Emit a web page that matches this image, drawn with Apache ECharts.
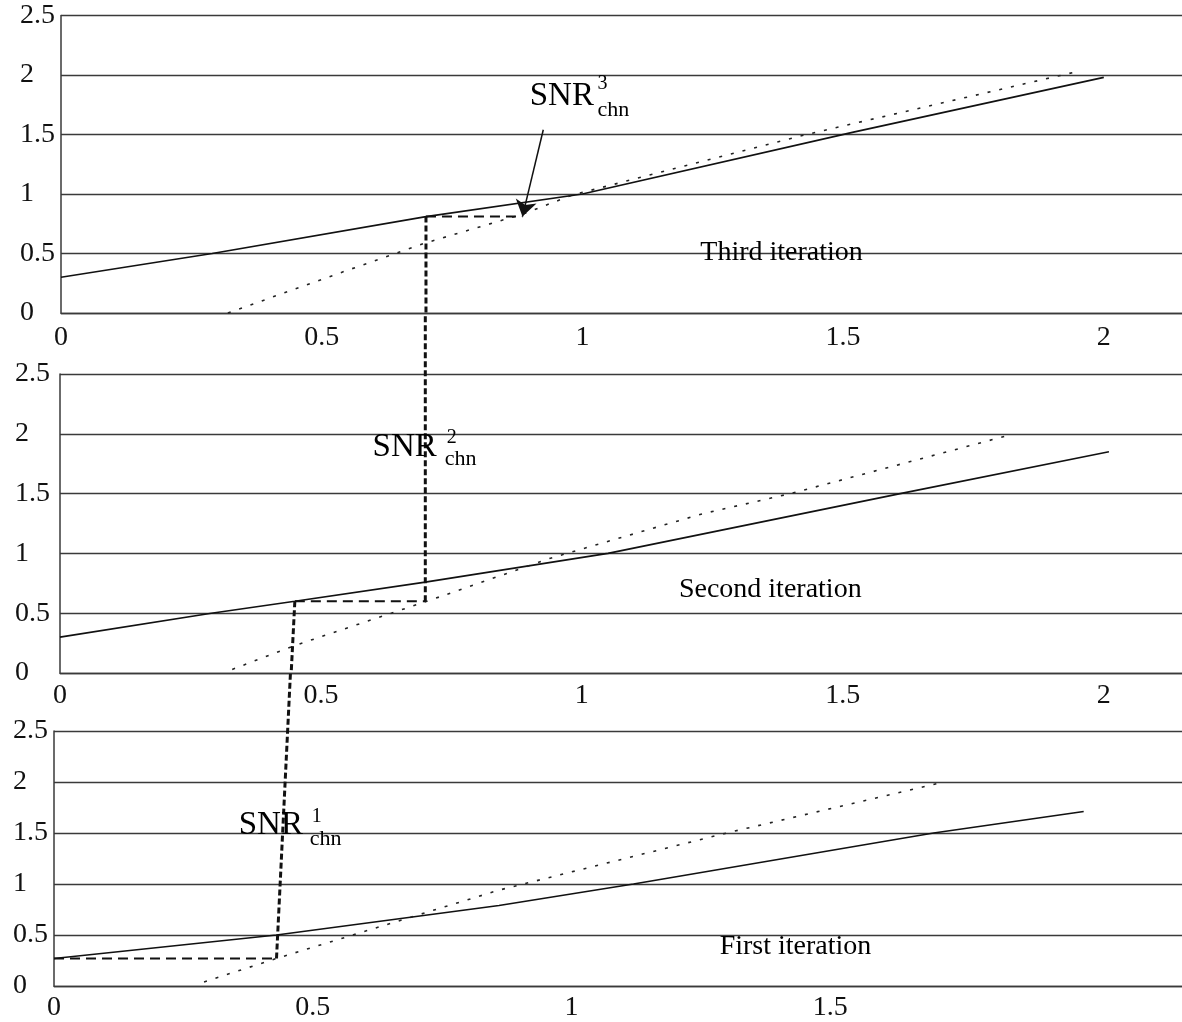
<!DOCTYPE html>
<html>
<head>
<meta charset="utf-8">
<script src="https://cdn.jsdelivr.net/npm/echarts@6/dist/echarts.min.js"></script>
<style>
  html, body { margin: 0; padding: 0; background: #fff; }
  #chart { width: 1182px; height: 1022px; }
</style>
</head>
<body>
<div id="chart"></div>
<script>
// ---- Shared axis ticks ----
const yTicks = [0, 0.5, 1, 1.5, 2, 2.5];
const xTicks = [0, 0.5, 1, 1.5, 2];

// ---- Third iteration (top panel) ----
const solid3X = [0, 0.29, 0.70, 1.00, 1.52, 2.00];
const solid3Y = [0.30, 0.50, 0.81, 1.00, 1.52, 1.98];
const dotted3X = [0.32, 0.55, 0.70, 0.885, 0.98, 1.42, 1.95];
const dotted3Y = [0.00, 0.36, 0.59, 0.83, 0.99, 1.49, 2.03];

// ---- Second iteration (middle panel) ----
const solid2X = [0, 0.29, 0.45, 0.70, 1.05, 1.61, 2.01];
const solid2Y = [0.30, 0.50, 0.60, 0.76, 1.00, 1.50, 1.85];
const dotted2X = [0.33, 0.45, 0.71, 0.94, 1.23, 1.40, 1.82];
const dotted2Y = [0.03, 0.23, 0.61, 0.96, 1.33, 1.50, 1.99];

// ---- First iteration (bottom panel) ----
const solid1X = [0, 0.43, 0.86, 1.12, 1.70, 1.99];
const solid1Y = [0.27, 0.50, 0.79, 1.00, 1.50, 1.71];
const dotted1X = [0.29, 0.43, 0.86, 1.30, 1.72];
const dotted1Y = [0.04, 0.27, 0.94, 1.50, 2.00];

// ---- Staircase between the panels (x, y pairs per panel) ----
const step3Horiz = [[0.70, 0.81], [0.885, 0.81]];
const step3Vert = [[0.70, 0.81], [0.70, 0.0]];
const step2Horiz = [[0.45, 0.60], [0.70, 0.60]];
const step2VertUp = [[0.70, 0.60], [0.70, 3.0]];
const step2VertDown = [[0.45, 0.60], [0.443, 0.0]];
const step2Stub = [[-0.013, 1.2], [-0.013, 1.0]];
const step1Horiz = [[0.0, 0.27], [0.43, 0.27]];
const step1Vert = [[0.43, 0.27], [0.457, 3.07]];

// arrow pointing at the third-iteration operating point
const arrow3 = [[0.925, 1.54], [0.885, 0.81]];

// ---- Panel captions ----
const captions = [
  { text: 'Third iteration', panel: 0, at: [1.383, 0.50] },
  { text: 'Second iteration', panel: 1, at: [1.362, 0.693] },
  { text: 'First iteration', panel: 2, at: [1.434, 0.377] }
];
// SNR_chn labels: [base, superscript, subscript] anchors
const snrLabels = [
  { panel: 0, sup: '3', base: [0.90, 1.815], supAt: [1.030, 1.926], subAt: [1.030, 1.703] },
  { panel: 1, sup: '2', base: [0.600, 1.883], supAt: [0.742, 1.96], subAt: [0.738, 1.785] },
  { panel: 2, sup: '1', base: [0.358, 1.570], supAt: [0.499, 1.659], subAt: [0.495, 1.435] }
];

const zip = (xs, ys) => xs.map((x, i) => [x, ys[i]]);
const FONT = 'Liberation Serif';
const INK = '#111';
const GRID = '#3a3a3a';

const grids = [
  { left: 61, top: 15.5, right: 0, height: 297.5 },
  { left: 60, top: 374, right: 0, height: 299 },
  { left: 54, top: 731, right: 0, height: 255 }
];
const xMax = [2.15, 2.15, 2.18];
const xLabelMargin = [11, 9, 8];
const yLabelMargin = [41, 45, 41];

const xAxes = grids.map((g, i) => ({
  gridIndex: i, type: 'value', min: 0, max: xMax[i], interval: 0.5,
  axisLine: { show: true, lineStyle: { color: GRID, width: 1.3 } },
  axisTick: { show: false },
  splitLine: { show: false },
  axisLabel: {
    showMaxLabel: false, margin: xLabelMargin[i],
    fontFamily: FONT, fontSize: 28, color: INK,
    formatter: v => (xTicks.indexOf(v) < 0 || (i === 2 && v === 2)) ? '' : String(v)
  }
}));
const yAxes = grids.map((g, i) => ({
  gridIndex: i, type: 'value', min: 0, max: 2.5, interval: 0.5,
  axisLine: { show: true, lineStyle: { color: GRID, width: 1.5 } },
  axisTick: { show: false },
  splitLine: { show: true, lineStyle: { color: GRID, width: 1.3 } },
  axisLabel: {
    align: 'left', margin: yLabelMargin[i],
    fontFamily: FONT, fontSize: 28, color: INK,
    formatter: v => yTicks.indexOf(v) < 0 ? '' : String(v)
  }
}));

const series = [];
function curve(panel, data, kind) {
  const styles = {
    solid: { color: INK, width: 1.6, type: 'solid' },
    dotted: { color: '#222', width: 1.6, type: [3, 9] },
    stepV: { color: INK, width: 3, type: [6, 3] },
    stepH: { color: INK, width: 2, type: [10, 6] }
  };
  series.push({
    type: 'line', xAxisIndex: panel, yAxisIndex: panel, data: data,
    showSymbol: false, symbol: 'none', clip: false, silent: true,
    lineStyle: styles[kind], z: kind.startsWith('step') ? 4 : 3
  });
}
curve(0, zip(solid3X, solid3Y), 'solid');
curve(0, zip(dotted3X, dotted3Y), 'dotted');
curve(1, zip(solid2X, solid2Y), 'solid');
curve(1, zip(dotted2X, dotted2Y), 'dotted');
curve(2, zip(solid1X, solid1Y), 'solid');
curve(2, zip(dotted1X, dotted1Y), 'dotted');

curve(0, step3Horiz, 'stepH');
curve(0, step3Vert, 'stepV');
curve(1, step2Horiz, 'stepH');
curve(1, step2VertUp, 'stepV');
curve(1, step2VertDown, 'stepV');
curve(1, step2Stub, 'stepV');
curve(2, step1Horiz, 'stepH');
curve(2, step1Vert, 'stepV');

// arrow drawn as a mark line so the head follows the shaft direction
series.push({
  type: 'line', xAxisIndex: 0, yAxisIndex: 0, data: [], silent: true, z: 6,
  markLine: {
    silent: true, animation: false,
    symbol: ['none', 'arrow'], symbolSize: 16,
    label: { show: false },
    itemStyle: { color: INK },
    lineStyle: { color: INK, width: 1.5, type: 'solid' },
    data: [[{ coord: arrow3[0] }, { coord: arrow3[1] }]]
  }
});

function textPoint(panel, at, text, size, align) {
  series.push({
    type: 'scatter', xAxisIndex: panel, yAxisIndex: panel, silent: true, z: 5,
    symbolSize: 1, itemStyle: { color: 'transparent', opacity: 1 },
    data: [{ value: at }],
    label: {
      show: true, position: [0, 0], align: align, verticalAlign: 'middle',
      formatter: () => text, fontFamily: FONT, fontSize: size, color: '#000',
      opacity: 1
    }
  });
}
captions.forEach(c => textPoint(c.panel, c.at, c.text, 28, 'center'));
snrLabels.forEach(s => {
  textPoint(s.panel, s.base, 'SNR', 33, 'left');
  textPoint(s.panel, s.supAt, s.sup, 20, 'left');
  textPoint(s.panel, s.subAt, 'chn', 22, 'left');
});

const chart = echarts.init(document.getElementById('chart'), null, { renderer: 'canvas' });
chart.setOption({
  animation: false,
  backgroundColor: '#fff',
  grid: grids,
  xAxis: xAxes,
  yAxis: yAxes,
  series: series
});
</script>
</body>
</html>
